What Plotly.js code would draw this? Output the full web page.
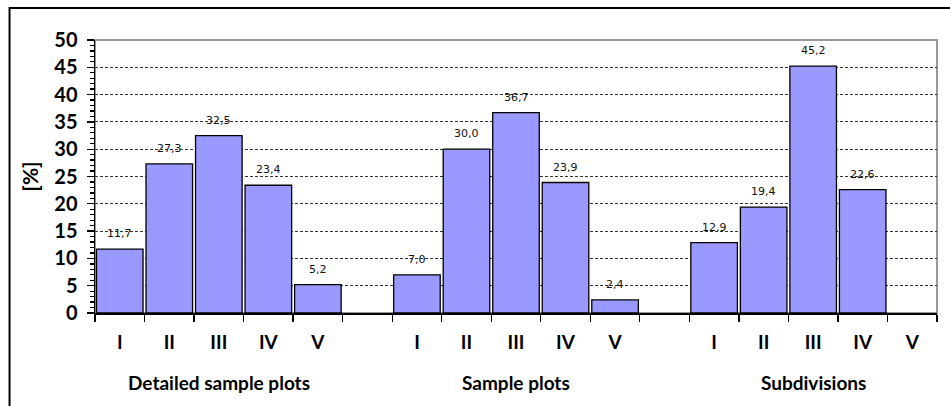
<!DOCTYPE html>
<html>
<head>
<meta charset="utf-8">
<script src="https://cdn.plot.ly/plotly-3.0.1.min.js"></script>
<style>html,body{margin:0;padding:0;background:#fff;}#chart{width:950px;height:406px;}</style>
</head>
<body>
<div id="chart"></div>
<script>
// Data
const categories = ['D-I','D-II','D-III','D-IV','D-V','gap1','S-I','S-II','S-III','S-IV','S-V','gap2','U-I','U-II','U-III','U-IV','U-V'];
const tickLabels = ['I','II','III','IV','V','','I','II','III','IV','V','','I','II','III','IV','V'];
const values = [11.7, 27.3, 32.5, 23.4, 5.2, null, 7.0, 30.0, 36.7, 23.9, 2.4, null, 12.9, 19.4, 45.2, 22.6, null];
const groupNames = ['Detailed sample plots', 'Sample plots', 'Subdivisions'];
const groupCenters = ['D-III', 'S-III', 'U-III'];
const yTitle = '[%]';

const labelFont = {family: 'DejaVu Sans, Verdana, sans-serif', size: 11, color: '#111'};
const fam = 'Lato, Open Sans, sans-serif';

const annotations = [];
categories.forEach((c, i) => {
  if (values[i] !== null) {
    annotations.push({
      x: c, y: values[i], xref: 'x', yref: 'y',
      text: values[i].toFixed(1).replace('.', ','),
      showarrow: false, yanchor: 'bottom', yshift: 7,
      font: labelFont
    });
  }
});
groupNames.forEach((g, i) => {
  annotations.push({
    x: groupCenters[i], xref: 'x', y: -0.255, yref: 'paper',
    text: '<b>' + g + '</b>', showarrow: false, yanchor: 'middle',
    font: {family: fam, size: 19, color: '#000'}
  });
});

const trace = {
  type: 'bar',
  x: categories,
  y: values,
  marker: {color: '#9999FF', line: {color: '#000', width: 1.3}},
  hoverinfo: 'skip'
};

const layout = {
  width: 950, height: 406,
  margin: {l: 95, r: 13, t: 40, b: 93},
  paper_bgcolor: '#fff', plot_bgcolor: '#fff',
  bargap: 0.06,
  showlegend: false,
  xaxis: {
    type: 'category',
    tickvals: categories, ticktext: tickLabels,
    tickson: 'boundaries', ticks: 'outside', ticklen: 7, tickwidth: 1.3, tickcolor: '#000',
    showline: true, linecolor: '#000', linewidth: 1.5,
    showgrid: false, zeroline: false,
    tickfont: {family: fam, size: 19, color: '#000', weight: 'bold'},
    ticklabelstandoff: 12,
    fixedrange: true
  },
  yaxis: {
    range: [0, 50], dtick: 5, tick0: 0,
    ticks: 'outside', ticklen: 7, tickwidth: 1.3, tickcolor: '#000',
    minor: {dtick: 1, ticks: 'outside', ticklen: 4, tickcolor: '#000', showgrid: false},
    showline: true, linecolor: '#000', linewidth: 1.5,
    showgrid: true, gridcolor: '#333', gridwidth: 1, griddash: '3px,2px',
    zeroline: false,
    tickfont: {family: fam, size: 20, color: '#000', weight: 'bold'},
    ticklabelstandoff: 5,
    title: {text: '<b>' + yTitle + '</b>', font: {family: fam, size: 21, color: '#000'}, standoff: 10},
    fixedrange: true
  },
  annotations: annotations,
  shapes: [
    {type: 'rect', xref: 'paper', yref: 'paper', x0: 0, x1: 1, y0: 0, y1: 1,
     line: {color: '#999', width: 2}, layer: 'below'},
    {type: 'rect', xref: 'paper', yref: 'paper', x0: -0.1015, x1: 1.2, y0: -0.5, y1: 1.117,
     line: {color: '#000', width: 2}, layer: 'below'}
  ]
};

Plotly.newPlot('chart', [trace], layout, {displayModeBar: false, staticPlot: true});
</script>
</body>
</html>
